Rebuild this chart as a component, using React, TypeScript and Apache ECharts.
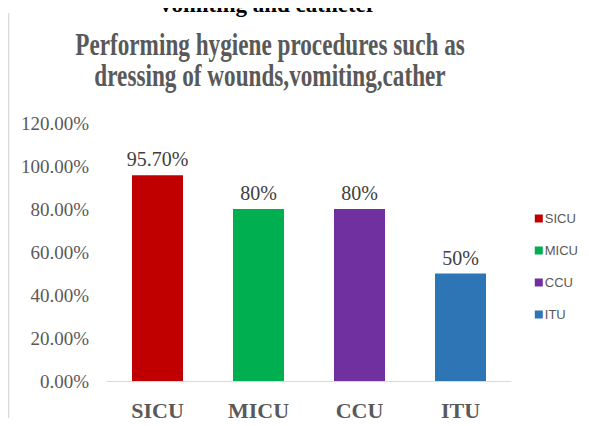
import React, { useEffect, useRef } from "react";
import * as echarts from "echarts";

const categories = ["SICU", "MICU", "CCU", "ITU"];
const values = [95.7, 80, 80, 50];
const valueLabels = ["95.70%", "80%", "80%", "50%"];
const colors = ["#C00000", "#00B050", "#7030A0", "#2E75B6"];
const yTicks = [0, 20, 40, 60, 80, 100, 120];
const titleLines = [
  "Performing hygiene procedures such as",
  "dressing of wounds,vomiting,cather",
];
const topText = "vomiting and catheter";

export default function App() {
  const ref = useRef<HTMLDivElement>(null);
  useEffect(() => {
    if (!ref.current) return;
    const chart = echarts.init(ref.current, null, { renderer: "svg" });
    const serif = "'Liberation Serif', 'Times New Roman', serif";
    const series = categories.map((name, i) => ({
      name,
      type: "bar",
      barWidth: 51,
      barGap: "-100%",
      itemStyle: { color: colors[i] },
      label: {
        show: true,
        position: "top",
        distance: 6,
        fontFamily: serif,
        fontSize: 20,
        color: "#404040",
        formatter: () => valueLabels[i],
      },
      data: categories.map((_, j) => (j === i ? values[i] : "-")),
    }));
    chart.setOption({
      animation: false,
      graphic: [
        {
          type: "line",
          shape: { x1: 8.5, y1: 13, x2: 8.5, y2: 426 },
          style: { stroke: "#d9d9d9", lineWidth: 1.5 },
        },
        {
          type: "text",
          x: 268,
          y: 4,
          style: {
            text: topText,
            font: `bold 23px ${serif}`,
            fill: "#000000",
            textAlign: "center",
            textVerticalAlign: "middle",
          },
        },
        ...titleLines.map((t, k) => ({
          type: "text",
          x: 270,
          y: 44 + k * 31,
          scaleX: 0.725,
          style: {
            text: t,
            font: `bold 32px ${serif}`,
            fill: "#595959",
            textAlign: "center",
            textVerticalAlign: "middle",
          },
        })),
      ],
      legend: {
        orient: "vertical",
        right: 6,
        top: 207,
        itemWidth: 8,
        itemHeight: 8,
        itemGap: 19,
        icon: "rect",
        textStyle: {
          fontFamily: "'Liberation Sans', Arial, sans-serif",
          fontSize: 13,
          color: "#595959",
          padding: [0, 0, 0, -3],
        },
        data: categories,
      },
      grid: { left: 107, right: 78, top: 123, bottom: 45 },
      xAxis: {
        type: "category",
        data: categories,
        axisLine: { lineStyle: { color: "#d9d9d9" } },
        axisTick: { show: false },
        axisLabel: {
          fontFamily: serif,
          fontWeight: "bold",
          fontSize: 22,
          color: "#595959",
          margin: 18,
        },
      },
      yAxis: {
        type: "value",
        min: 0,
        max: 120,
        interval: 20,
        splitLine: { show: false },
        axisLine: { show: false },
        axisTick: { show: false },
        axisLabel: {
          fontFamily: serif,
          fontSize: 19,
          color: "#595959",
          margin: 18,
          formatter: (v: number) => (yTicks.includes(v) ? v.toFixed(2) + "%" : ""),
        },
      },
      series,
    });
    return () => chart.dispose();
  }, []);
  return <div ref={ref} style={{ width: 589, height: 426, margin: -8 }} />;
}
